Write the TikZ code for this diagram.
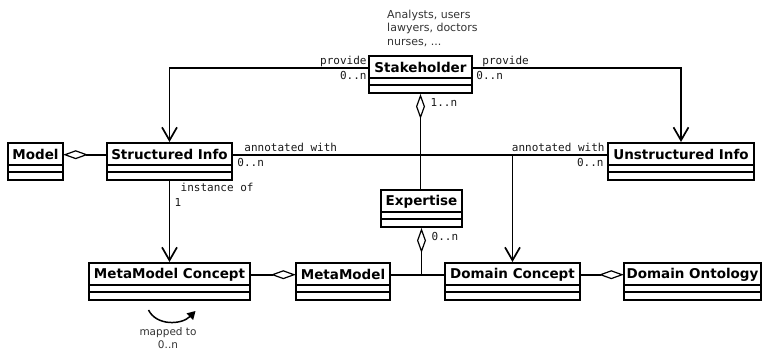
\documentclass[tikz,border=0pt]{standalone}
\usepackage{fontspec}
\setmainfont{DejaVu Sans}
\newfontfamily\labelmono{DejaVu Sans Mono}
\usetikzlibrary{arrows.meta}

\tikzset{
  classframe/.style={draw, line width=2pt, rectangle, inner sep=0pt,
    minimum height=37pt, anchor=north west},
  classname/.style={inner sep=0pt, minimum height=23pt, anchor=north,
    font=\fontsize{13.5}{16}\selectfont\bfseries},
  sepline/.style={line width=2pt},
  assoc/.style={line width=1.7pt},
  navarrow/.style={-{Straight Barb[length=13pt,width=15pt,line width=1.7pt]}},
  aggr/.style={{Diamond[open,length=25pt,width=9pt,line width=1.2pt]}-},
  aggrend/.style={-{Diamond[open,length=25pt,width=9pt,line width=1.2pt]}},
  role/.style={font=\labelmono\fontsize{11}{13}\selectfont, inner sep=0pt, text=black!90},
  note/.style={font=\fontsize{11}{13.5}\selectfont, inner sep=0pt, text=black!80, align=left},
}

% UML class: id, left, top, width, title
\newcommand\umlclass[5]{%
  \node[classframe, minimum width=#4pt] (#1) at (#2,#3) {};
  \node[classname, minimum width=#4pt] (#1-name) at ([yshift=-1pt]#1.north) {#5};
  \draw[sepline] ([yshift=-23pt]#1.north west) -- ([yshift=-23pt]#1.north east);
  \draw[sepline] ([yshift=-30pt]#1.north west) -- ([yshift=-30pt]#1.north east);
}

\begin{document}
\begin{tikzpicture}[x=1pt,y=-1pt]
\useasboundingbox (0,0) rectangle (762,351);

% classes
\umlclass{stake}{368}{55}{103}{Stakeholder}
\umlclass{model}{7}{142}{55}{Model}
\umlclass{sinfo}{106}{142}{125}{Structured Info}
\umlclass{uinfo}{607}{142}{146}{Unstructured Info}
\umlclass{exp}{380}{189}{81}{Expertise}
\umlclass{mmc}{88}{262}{161}{MetaModel Concept}
\umlclass{mm}{295}{262}{94}{MetaModel}
\umlclass{dcon}{444}{262}{135}{Domain Concept}
\umlclass{dont}{623}{262}{137}{Domain Ontology}

% note on stakeholders
\node[note, anchor=north west] (stakenote) at (387,9.5)
  {Analysts, users\\lawyers, doctors\\nurses, ...};

% Stakeholder provides structured / unstructured info
\draw[assoc, navarrow] (stake-name.west) -| (sinfo.north);
\node[role, anchor=base east] at ([xshift=-2pt,yshift=3.5pt]stake-name.west) {provide};
\node[role, anchor=north east] at ([xshift=-2pt,yshift=-3pt]stake-name.west) {0..n};

\draw[assoc, navarrow] (stake-name.east) -| (uinfo.north);
\node[role, anchor=base west] at ([xshift=10pt,yshift=3.5pt]stake-name.east) {provide};
\node[role, anchor=north west] at ([xshift=4pt,yshift=-3pt]stake-name.east) {0..n};

% Stakeholder aggregates expertise
\draw[assoc, aggr] (stake.south) -- (stake.south |- exp.north);
\node[role, anchor=west] at ([xshift=10pt,yshift=-8pt]stake.south) {1..n};

% Model aggregates structured info
\draw[assoc, aggr] (model-name.east) -- (sinfo-name.west);

% annotations between structured and unstructured info
\draw[assoc] (sinfo-name.east) -- (uinfo-name.west);
\node[role, anchor=base west] at ([xshift=12pt,yshift=3.5pt]sinfo-name.east) {annotated with};
\node[role, anchor=north west] at ([xshift=5pt,yshift=-3pt]sinfo-name.east) {0..n};
\node[role, anchor=base east] at ([xshift=-3pt,yshift=3.5pt]uinfo-name.west) {annotated with};
\node[role, anchor=north east] at ([xshift=-4pt,yshift=-3pt]uinfo-name.west) {0..n};

\coordinate (ann) at (dcon.north |- sinfo-name.east);
\draw[assoc, navarrow] (ann) -- (dcon.north);

% structured info is an instance of a metamodel concept
\draw[assoc, navarrow] (sinfo.south) -- (mmc.north);
\node[role, anchor=base west] at ([xshift=11pt,yshift=-10pt]sinfo.south) {instance of};
\node[role, anchor=base west] at ([xshift=5pt,yshift=-25pt]sinfo.south) {1};

% metamodel side
\draw[assoc, aggrend] (mmc-name.east) -- (mm-name.west);
\draw[assoc] (mm-name.east) -- (dcon-name.west);
\coordinate (mmdc) at (exp.south |- mm-name.east);
\draw[assoc, aggr] (exp.south) -- (mmdc);
\node[role, anchor=west] at ([xshift=10pt,yshift=-8pt]exp.south) {0..n};

% domain side
\draw[assoc, aggrend] (dcon-name.east) -- (dont-name.west);

% self mapping of metamodel concepts
\draw[line width=1.5pt, -{Triangle[length=8pt,width=9pt]}]
  ([xshift=-21pt,yshift=-9pt]mmc.south) .. controls +(8,16) and +(-14,14) ..
  ([xshift=26pt,yshift=-10pt]mmc.south);
\node[note, align=center, anchor=north, font=\fontsize{10.5}{13}\selectfont]
  (maplabel) at (168,327) {mapped to\\0..n};
\end{tikzpicture}
\end{document}
